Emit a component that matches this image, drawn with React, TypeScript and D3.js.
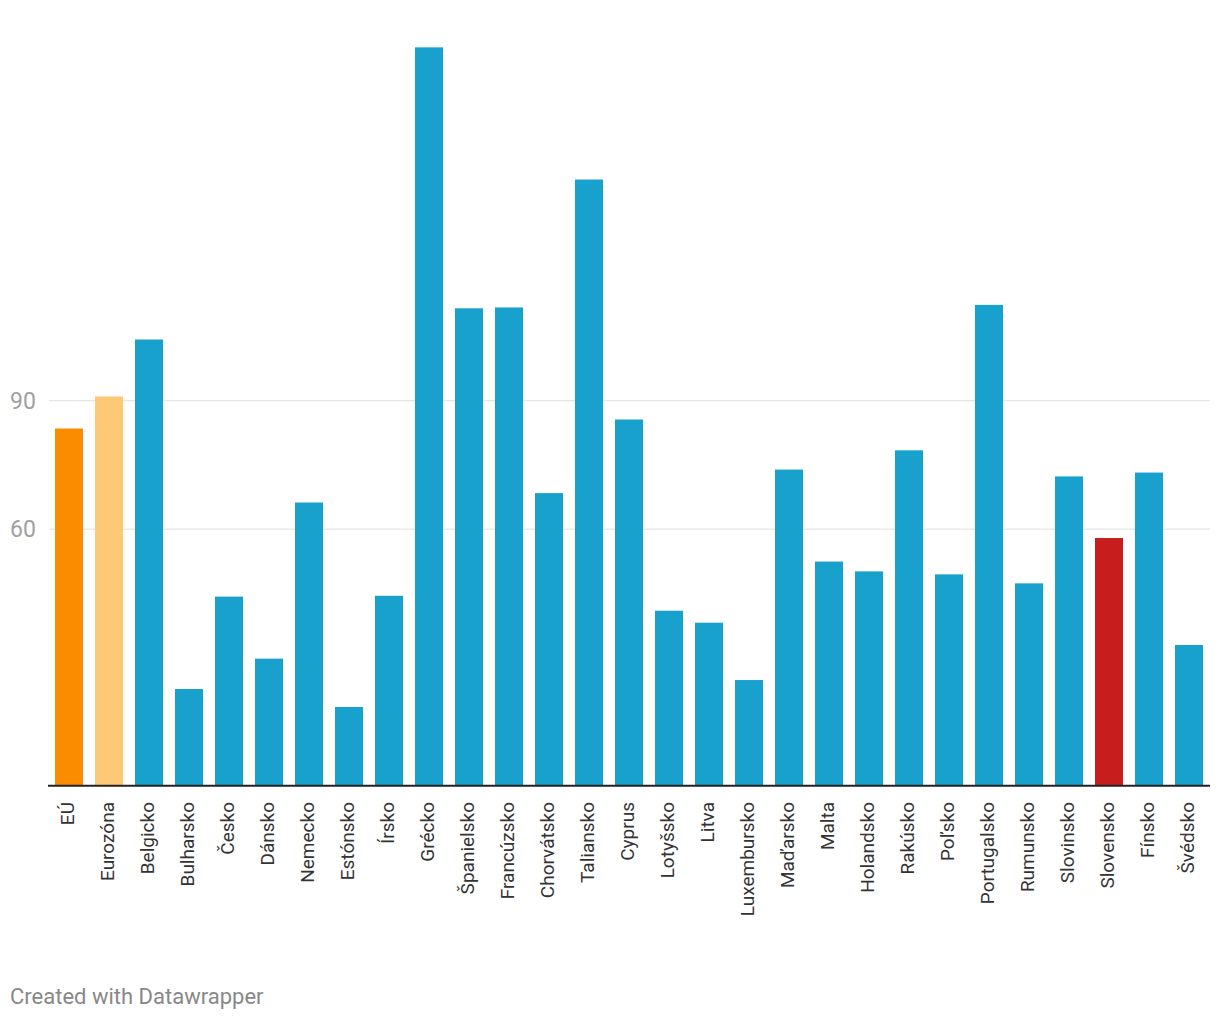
import * as d3 from "d3";
import { useEffect, useRef } from "react";

const countries = [
  "EÚ", "Eurozóna", "Belgicko", "Bulharsko", "Česko", "Dánsko", "Nemecko",
  "Estónsko", "Írsko", "Grécko", "Španielsko", "Francúzsko", "Chorvátsko",
  "Taliansko", "Cyprus", "Lotyšsko", "Litva", "Luxembursko", "Maďarsko",
  "Malta", "Holandsko", "Rakúsko", "Poľsko", "Portugalsko", "Rumunsko",
  "Slovinsko", "Slovensko", "Fínsko", "Švédsko",
];

const values = [
  83.5, 91, 104.3, 22.6, 44.2, 29.7, 66.2, 18.4, 44.4, 172.6, 111.6, 111.8,
  68.4, 141.7, 85.6, 40.9, 38.1, 24.7, 73.9, 52.4, 50.1, 78.4, 49.4, 112.4,
  47.3, 72.3, 57.9, 73.2, 32.9,
];

const yTicks = [60, 90];

const colorFor = (name: string) => {
  if (name === "EÚ") return "#fb8c00";
  if (name === "Eurozóna") return "#fec977";
  if (name === "Slovensko") return "#c71e1d";
  return "#18a1cd";
};

export default function App() {
  const ref = useRef<SVGSVGElement | null>(null);

  useEffect(() => {
    document.body.style.margin = "0";
    if (!ref.current) return;

    const width = 1220;
    const height = 1020;
    const baseY = 785.7;

    const x = d3
      .scaleBand()
      .domain(countries)
      .range([49, 1209])
      .paddingInner(0.3)
      .paddingOuter(0.15);

    const y = d3.scaleLinear().domain([0, 90]).range([baseY, 400.7]);

    const svg = d3.select(ref.current);
    svg.selectAll("*").remove();
    svg.attr("width", width).attr("height", height);

    const font = "Roboto, 'Noto Sans', sans-serif";

    // grid
    const grid = svg.append("g");
    grid
      .selectAll("line")
      .data(yTicks)
      .join("line")
      .attr("x1", 49)
      .attr("x2", 1210)
      .attr("y1", (d) => y(d))
      .attr("y2", (d) => y(d))
      .attr("stroke", "#e5e5e5")
      .attr("stroke-width", 1.3);

    grid
      .selectAll("text")
      .data(yTicks)
      .join("text")
      .attr("x", 10)
      .attr("y", (d) => y(d) + 8)
      .attr("font-family", font)
      .attr("font-size", 23)
      .attr("fill", "#a0a0a0")
      .text((d) => d);

    // bars
    svg
      .append("g")
      .selectAll("rect")
      .data(values)
      .join("rect")
      .attr("x", (_, i) => x(countries[i])!)
      .attr("y", (d) => y(d))
      .attr("width", x.bandwidth())
      .attr("height", (d) => y(0) - y(d))
      .attr("fill", (_, i) => colorFor(countries[i]));

    // baseline
    svg
      .append("line")
      .attr("x1", 48)
      .attr("x2", 1210)
      .attr("y1", baseY)
      .attr("y2", baseY)
      .attr("stroke", "#222")
      .attr("stroke-width", 2);

    // x labels
    svg
      .append("g")
      .selectAll("text")
      .data(countries)
      .join("text")
      .attr(
        "transform",
        (d) => `translate(${x(d)! + x.bandwidth() / 2 + 5},802) rotate(-90)`
      )
      .attr("text-anchor", "end")
      .attr("font-family", font)
      .attr("font-size", 19)
      .attr("fill", "#333")
      .text((d) => d);

    // footer
    svg
      .append("text")
      .attr("x", 10)
      .attr("y", 1004)
      .attr("font-family", font)
      .attr("font-size", 22)
      .attr("fill", "#888")
      .text("Created with Datawrapper");
  }, []);

  return <svg ref={ref} style={{ display: "block" }}></svg>;
}
